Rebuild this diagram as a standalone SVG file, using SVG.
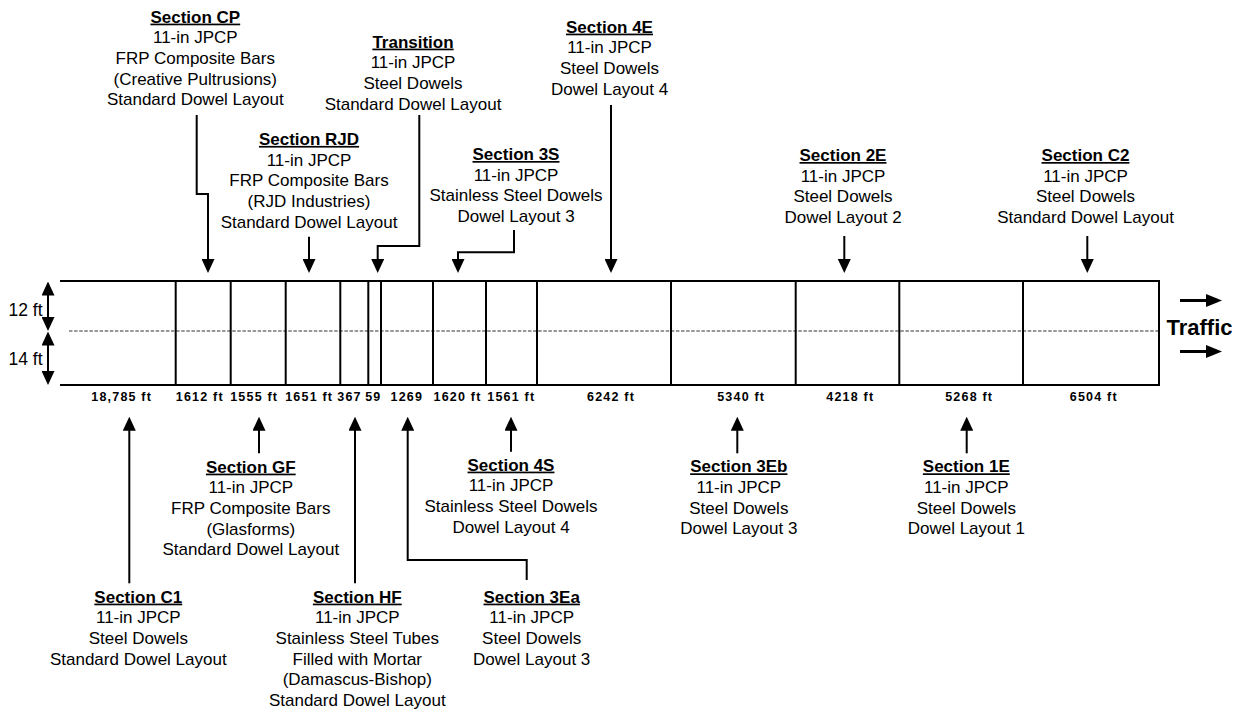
<svg xmlns="http://www.w3.org/2000/svg" width="1244" height="711" viewBox="0 0 1244 711">
<style>
text{font-family:"Liberation Sans",Arial,sans-serif;fill:#000}
.t{font-size:17px;text-anchor:middle}
.h{font-weight:bold;text-decoration:underline}
.len{font-size:12.5px;font-weight:bold;letter-spacing:1.2px;text-anchor:middle}
.dim{font-size:17.5px;text-anchor:end}
.trf{font-size:22px;font-weight:bold}
.ln{stroke:#000;stroke-width:2;fill:none}
.arr{stroke:#000;stroke-width:2;fill:none;marker-end:url(#ah)}
.tarr{stroke:#000;stroke-width:3;fill:none;marker-end:url(#ah2)}
.dbl{stroke:#000;stroke-width:2;fill:none;marker-start:url(#ah);marker-end:url(#ah)}
</style>
<defs>
<marker id="ah" markerUnits="userSpaceOnUse" markerWidth="14" markerHeight="13" viewBox="0 0 14 13" refX="10" refY="6.5" orient="auto-start-reverse">
<path d="M0,0 L14,6.5 L0,13 z" fill="#000"/>
</marker>
<marker id="ah2" markerUnits="userSpaceOnUse" markerWidth="16" markerHeight="13" viewBox="0 0 16 13" refX="10" refY="6.5" orient="auto">
<path d="M0,0 L16,6.5 L0,13 z" fill="#000"/>
</marker>
</defs>
<rect width="1244" height="711" fill="#fff"/>

<g id="roadway">
<line class="ln" x1="60" y1="281" x2="1160" y2="281"/>
<line class="ln" x1="60" y1="385" x2="1160" y2="385"/>
<line x1="69" y1="331" x2="1159" y2="331" stroke="#333" stroke-width="1.2" stroke-dasharray="3.5 1.6"/>
<path class="ln" d="M175.7,281V385M230.7,281V385M285.7,281V385M340.3,281V385M368.3,281V385M381,281V385M433,281V385M486,281V385M537,281V385M671,281V385M795.7,281V385M899.3,281V385M1023,281V385M1159,281V385"/>
</g>

<g id="lengths">
<text class="len" x="121.7" y="401">18,785 ft</text>
<text class="len" x="199.8" y="401">1612 ft</text>
<text class="len" x="254.2" y="401">1555 ft</text>
<text class="len" x="309.2" y="401">1651 ft</text>
<text class="len" x="349.5" y="401">367</text>
<text class="len" x="373.3" y="401">59</text>
<text class="len" x="406.8" y="401">1269</text>
<text class="len" x="457.5" y="401">1620 ft</text>
<text class="len" x="511.3" y="401">1561 ft</text>
<text class="len" x="611" y="401">6242 ft</text>
<text class="len" x="741.2" y="401">5340 ft</text>
<text class="len" x="850.3" y="401">4218 ft</text>
<text class="len" x="969.2" y="401">5268 ft</text>
<text class="len" x="1093.8" y="401">6504 ft</text>
</g>

<g id="lane-widths">
<text class="dim" x="42.5" y="316">12 ft</text>
<text class="dim" x="42.5" y="365">14 ft</text>
</g>

<g id="traffic">
<text class="trf" x="1166.5" y="335">Traffic</text>
</g>

<g id="connectors">
<line class="dbl" x1="48" y1="285.5" x2="48" y2="327"/>
<line class="dbl" x1="48" y1="335.5" x2="48" y2="381"/>
<line class="tarr" x1="1180" y1="300.5" x2="1216" y2="300.5"/>
<line class="tarr" x1="1180" y1="351.5" x2="1216" y2="351.5"/>
<path class="arr" d="M196.7,115V194H208V269"/>
<path class="arr" d="M419.3,115V246H377.7V269"/>
<path class="arr" d="M309,236.7V269"/>
<path class="arr" d="M514,230V252.3H458V269"/>
<path class="arr" d="M611,105V269"/>
<path class="arr" d="M844.3,236V269"/>
<path class="arr" d="M1087.3,236V269"/>
<path class="arr" d="M259,453.3V420.7"/>
<path class="arr" d="M129.3,583.3V420.7"/>
<path class="arr" d="M355,583.3V420.7"/>
<path class="arr" d="M526.7,580V560H407.7V420.7"/>
<path class="arr" d="M511,451.7V420.7"/>
<path class="arr" d="M737.3,453.3V420.7"/>
<path class="arr" d="M966.7,453.3V420.7"/>
</g>

<g id="section-cp">
<text class="t h" x="195.3" y="22.6">Section CP</text>
<text class="t" x="195.3" y="43.3">11-in JPCP</text>
<text class="t" x="195.3" y="64">FRP Composite Bars</text>
<text class="t" x="195.3" y="84.7">(Creative Pultrusions)</text>
<text class="t" x="195.3" y="105.4">Standard Dowel Layout</text>
</g>

<g id="section-transition">
<text class="t h" x="413" y="47.6">Transition</text>
<text class="t" x="413" y="68.3">11-in JPCP</text>
<text class="t" x="413" y="89">Steel Dowels</text>
<text class="t" x="413" y="109.7">Standard Dowel Layout</text>
</g>

<g id="section-rjd">
<text class="t h" x="309" y="144.9">Section RJD</text>
<text class="t" x="309" y="165.6">11-in JPCP</text>
<text class="t" x="309" y="186.3">FRP Composite Bars</text>
<text class="t" x="309" y="207">(RJD Industries)</text>
<text class="t" x="309" y="227.7">Standard Dowel Layout</text>
</g>

<g id="section-3s">
<text class="t h" x="516" y="160">Section 3S</text>
<text class="t" x="516" y="180.7">11-in JPCP</text>
<text class="t" x="516" y="201.4">Stainless Steel Dowels</text>
<text class="t" x="516" y="222.1">Dowel Layout 3</text>
</g>

<g id="section-4e">
<text class="t h" x="609.5" y="32.6">Section 4E</text>
<text class="t" x="609.5" y="53.3">11-in JPCP</text>
<text class="t" x="609.5" y="74">Steel Dowels</text>
<text class="t" x="609.5" y="94.7">Dowel Layout 4</text>
</g>

<g id="section-2e">
<text class="t h" x="843" y="161">Section 2E</text>
<text class="t" x="843" y="181.7">11-in JPCP</text>
<text class="t" x="843" y="202.4">Steel Dowels</text>
<text class="t" x="843" y="223.1">Dowel Layout 2</text>
</g>

<g id="section-c2">
<text class="t h" x="1085.5" y="161">Section C2</text>
<text class="t" x="1085.5" y="181.7">11-in JPCP</text>
<text class="t" x="1085.5" y="202.4">Steel Dowels</text>
<text class="t" x="1085.5" y="223.1">Standard Dowel Layout</text>
</g>

<g id="section-gf">
<text class="t h" x="250.8" y="472.6">Section GF</text>
<text class="t" x="250.8" y="493.3">11-in JPCP</text>
<text class="t" x="250.8" y="514">FRP Composite Bars</text>
<text class="t" x="250.8" y="534.7">(Glasforms)</text>
<text class="t" x="250.8" y="555.4">Standard Dowel Layout</text>
</g>

<g id="section-c1">
<text class="t h" x="138.3" y="602.6">Section C1</text>
<text class="t" x="138.3" y="623.3">11-in JPCP</text>
<text class="t" x="138.3" y="644">Steel Dowels</text>
<text class="t" x="138.3" y="664.7">Standard Dowel Layout</text>
</g>

<g id="section-hf">
<text class="t h" x="357.3" y="602.6">Section HF</text>
<text class="t" x="357.3" y="623.3">11-in JPCP</text>
<text class="t" x="357.3" y="644">Stainless Steel Tubes</text>
<text class="t" x="357.3" y="664.7">Filled with Mortar</text>
<text class="t" x="357.3" y="685.4">(Damascus-Bishop)</text>
<text class="t" x="357.3" y="706">Standard Dowel Layout</text>
</g>

<g id="section-3ea">
<text class="t h" x="531.7" y="602.6">Section 3Ea</text>
<text class="t" x="531.7" y="623.3">11-in JPCP</text>
<text class="t" x="531.7" y="644">Steel Dowels</text>
<text class="t" x="531.7" y="664.7">Dowel Layout 3</text>
</g>

<g id="section-4s">
<text class="t h" x="511" y="470.6">Section 4S</text>
<text class="t" x="511" y="491.3">11-in JPCP</text>
<text class="t" x="511" y="512">Stainless Steel Dowels</text>
<text class="t" x="511" y="532.7">Dowel Layout 4</text>
</g>

<g id="section-3eb">
<text class="t h" x="738.8" y="472.3">Section 3Eb</text>
<text class="t" x="738.8" y="493">11-in JPCP</text>
<text class="t" x="738.8" y="513.7">Steel Dowels</text>
<text class="t" x="738.8" y="534.4">Dowel Layout 3</text>
</g>

<g id="section-1e">
<text class="t h" x="966.3" y="472.3">Section 1E</text>
<text class="t" x="966.3" y="493">11-in JPCP</text>
<text class="t" x="966.3" y="513.7">Steel Dowels</text>
<text class="t" x="966.3" y="534.4">Dowel Layout 1</text>
</g>
</svg>
